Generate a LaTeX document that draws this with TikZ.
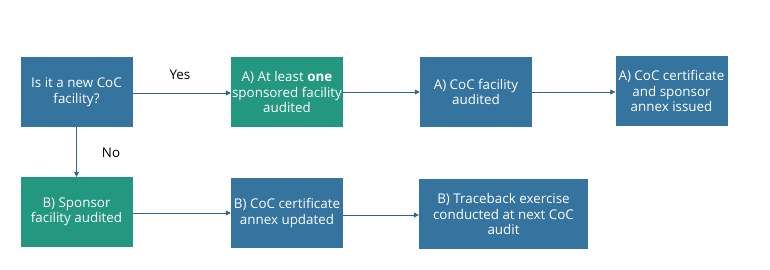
\documentclass[tikz,border=0pt]{standalone}
\usepackage{fontspec}
\setmainfont{Open Sans}
\usepackage{tikz}
\usetikzlibrary{arrows.meta,positioning}
\definecolor{cocblue}{HTML}{34749F}
\definecolor{cocteal}{HTML}{23977F}
\definecolor{cocline}{HTML}{2D6690}

\begin{document}
\begin{tikzpicture}[
  x=1pt, y=-1pt,
  every node/.style={font=\fontsize{13.4}{15.5}\selectfont},
  stepbox/.style={rectangle,fill=cocblue,text=white,align=center,
    minimum width=112pt,minimum height=70pt,inner sep=0pt},
  tealbox/.style={stepbox,fill=cocteal},
  flow/.style={draw=cocline,line width=0.8pt,-{Triangle[length=5pt,width=5pt]}},
]
\useasboundingbox (0,0) rectangle (770,270);
\node[stepbox] (new) at (76.5,92) {Is it a new CoC\\facility?};
\node[tealbox] (one) at (287,92) {A) At least \textbf{one}\\sponsored facility\\audited};
\node[stepbox] (aud) at (476,92) {A) CoC facility\\audited};
\node[stepbox] (cert) at (671.5,91) {A) CoC certificate\\and sponsor\\annex issued};
\node[tealbox] (spons) at (76.5,212) {B) Sponsor\\facility audited};
\node[stepbox] (annex) at (287,213) {B) CoC certificate\\annex updated};
\node[stepbox,minimum width=169pt] (trace) at (503.5,214) {B) Traceback exercise\\conducted at next CoC\\audit};
% yes branch
\draw[flow] (new.east |- 0,93) -- (one.west |- 0,93);
\draw[flow] (one) -- (aud);
\draw[flow] (aud) -- (cert.west |- aud);
% no branch
\draw[flow] (new) -- (spons);
\draw[flow] (spons.east |- 0,213) -- (annex.west |- 0,213);
\draw[flow] (annex.east |- 0,215) -- (trace.west |- 0,215);
\node (yes) at (180,75) {Yes};
\node (no) at (111,153) {No};
\end{tikzpicture}
\end{document}
